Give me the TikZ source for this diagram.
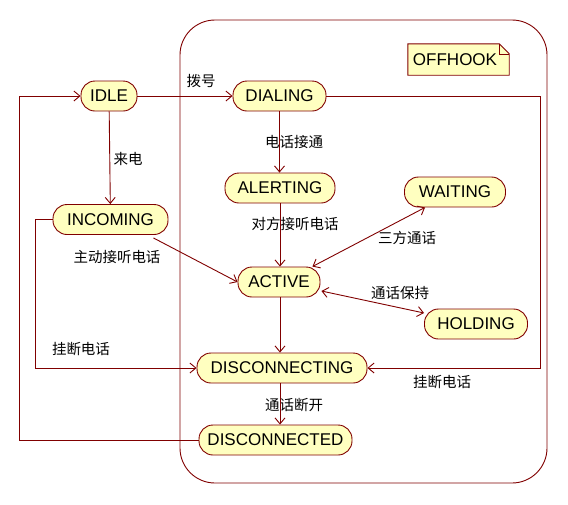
\documentclass[tikz,border=0pt]{standalone}
\usepackage{fontspec}
\setmainfont{Liberation Sans}
\newfontfamily\cjk{Noto Sans CJK SC}
\usetikzlibrary{arrows.meta,positioning,calc}

\definecolor{linered}{RGB}{128,0,0}
\definecolor{stateyellow}{RGB}{255,255,192}

\begin{document}
\begin{tikzpicture}[
    x=1pt, y=-1pt,
    state/.style={draw=linered, fill=stateyellow, line width=0.9pt, rounded corners=14pt, minimum height=30pt, inner sep=0pt, font=\fontsize{17}{17}\selectfont},
    lbl/.style={font=\cjk\fontsize{14.5}{15}\selectfont, inner sep=0pt},
    arr/.style={-{Straight Barb[length=6pt, width=10pt]}, draw=linered, line width=0.9pt},
    darr/.style={{Straight Barb[length=6pt, width=10pt]}-{Straight Barb[length=6pt, width=10pt]}, draw=linered, line width=0.9pt}
]
\useasboundingbox (0,0) rectangle (568,504);

% composite state
\draw[linered, line width=0.9pt, rounded corners=35pt] (180,20) rectangle (547,483);

% OFFHOOK note
\node[minimum width=101pt, minimum height=31pt, inner sep=0pt] (note) at (458.5,59.5) {};
\draw[linered, fill=stateyellow, line width=0.9pt] (note.north west) -- ($(note.north east)+(-10,0)$) -- ($(note.north east)+(0,10)$) -- (note.south east) -- (note.south west) -- cycle;
\draw[linered, line width=0.6pt] ($(note.north east)+(-10,0)$) -- ($(note.north east)+(-10,10)$) -- ($(note.north east)+(0,10)$);
\node[font=\fontsize{17}{17}\selectfont, inner sep=0pt] (offhook) at (455,60) {OFFHOOK};

% states
\node[state, minimum width=56pt] (idle) at (109,96) {IDLE};
\node[state, minimum width=93pt] (dialing) at (279.5,96) {DIALING};
\node[state, minimum width=110pt] (alerting) at (280,188) {ALERTING};
\node[state, minimum width=101pt] (waiting) at (455,192) {WAITING};
\node[state, minimum width=115pt] (incoming) at (110.5,219.5) {INCOMING};
\node[state, minimum width=82pt] (active) at (279,282) {ACTIVE};
\node[state, minimum width=103pt] (holding) at (476,324) {HOLDING};
\node[state, minimum width=170pt] (disconnecting) at (282,368) {DISCONNECTING};
\node[state, minimum width=153pt] (disconnected) at (275.5,440) {DISCONNECTED};

% labels
\node[lbl] (lbDial) at (201,81) {拨号};
\node[lbl] (lbConn) at (294,142) {电话接通};
\node[lbl] (lbAnswer) at (295,224) {对方接听电话};
\node[lbl] (lbRing) at (128,159) {来电};
\node[lbl] (lbPick) at (117,257) {主动接听电话};
\node[lbl] (lbThree) at (407,238) {三方通话};
\node[lbl] (lbHold) at (400,293) {通话保持};
\node[lbl] (lbHangL) at (81,349) {挂断电话};
\node[lbl] (lbHangR) at (442,382) {挂断电话};
\node[lbl] (lbDrop) at (294,405) {通话断开};

% transitions
\coordinate (actBot) at ($(active.south)+(1,0)$);
\coordinate (dscBot) at ($(disconnecting.south)+(-2,0)$);
\draw[arr] (idle) -- (dialing);
\draw[arr] (dialing.south) -- (dialing.south |- alerting.north);
\draw[arr] (alerting.south) -- (alerting.south |- active.north);
\draw[arr] (idle) -- (incoming);
\draw[arr] (incoming.south east) ++(-15,3) -- (active.west);
\draw[darr] (active.north east) ++(-8,0) -- ($(waiting.south west)+(21,0)$);
\draw[darr] (active.east) ++(1,9) -- ($(holding.west)+(0,-11)$);
\draw[arr] (actBot) -- (actBot |- disconnecting.north);
\draw[arr] (incoming.west) -- ++(-17,0) |- (disconnecting.west);
\draw[arr] (dialing.east) -- ++(214,0) |- (disconnecting.east);
\draw[arr] (dscBot) -- (dscBot |- disconnected.north);
\draw[arr] (disconnected.west) -- ++(-179,0) |- (idle.west);
\end{tikzpicture}
\end{document}
